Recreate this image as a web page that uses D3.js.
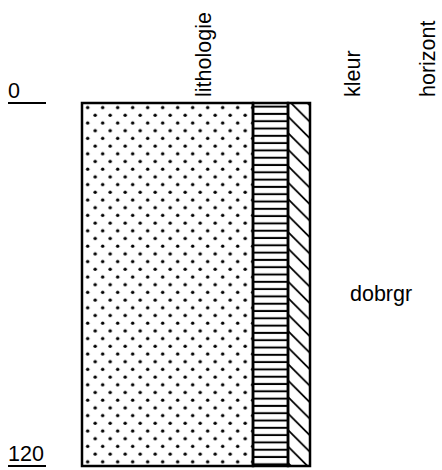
<!DOCTYPE html>
<html>
<head>
<meta charset="utf-8">
<script src="https://cdn.jsdelivr.net/npm/d3@7"></script>
<style>
  body { margin: 0; background: #fff; }
  text { font-family: "Liberation Sans", Arial, sans-serif; font-size: 21.5px; fill: #000; }
</style>
</head>
<body>
<script>
// depth axis (cm)
const depthTicks = [0, 120];
// layers
const layerTop = [0];
const layerBottom = [120];
const lithologie = ["zand"];
const kleur = ["dobrgr"];
const horizont = ["h1"];
const columnNames = ["lithologie", "kleur", "horizont"];

const width = 442;
const height = 470;

const svg = d3.select("body")
    .append("svg")
    .attr("width", width)
    .attr("height", height);

const y = d3.scaleLinear().domain([0, 120]).range([103, 466]);

// column edges of the log
const litho = { x0: 82, x1: 253 };
const kleurCol = { x0: 253, x1: 288 };
const horCol = { x0: 288, x1: 310 };

const defs = svg.append("defs");

// sand: staggered dots
const dots = defs.append("pattern")
    .attr("id", "dots")
    .attr("patternUnits", "userSpaceOnUse")
    .attr("x", 80.2)
    .attr("y", 103.5)
    .attr("width", 15)
    .attr("height", 15.4);
dots.append("circle").attr("cx", 7.5).attr("cy", 4).attr("r", 1.7).attr("fill", "#000");
dots.append("circle").attr("cx", 0).attr("cy", 11.7).attr("r", 1.7).attr("fill", "#000");
dots.append("circle").attr("cx", 15).attr("cy", 11.7).attr("r", 1.7).attr("fill", "#000");

// kleur: horizontal lines
const hlines = defs.append("pattern")
    .attr("id", "hlines")
    .attr("patternUnits", "userSpaceOnUse")
    .attr("x", 0)
    .attr("y", 103)
    .attr("width", 10)
    .attr("height", 7.3);
hlines.append("line")
    .attr("x1", 0).attr("x2", 10)
    .attr("y1", 3.6).attr("y2", 3.6)
    .attr("stroke", "#000")
    .attr("stroke-width", 2);

// horizont: diagonal hatch "\"
const hatch = defs.append("pattern")
    .attr("id", "hatch")
    .attr("patternUnits", "userSpaceOnUse")
    .attr("x", 288)
    .attr("y", 100)
    .attr("width", 22)
    .attr("height", 16.5);
[-16.5, 0, 16.5].forEach(off => {
    hatch.append("line")
        .attr("x1", 0).attr("y1", off)
        .attr("x2", 22).attr("y2", off + 22)
        .attr("stroke", "#000")
        .attr("stroke-width", 1.8);
});

const layers = layerTop.map((t, i) => ({ top: t, bottom: layerBottom[i], litho: lithologie[i], kleur: kleur[i], hor: horizont[i] }));

const g = svg.append("g");

function drawColumn(col, fill) {
    g.selectAll(null)
        .data(layers)
        .enter()
        .append("rect")
        .attr("x", col.x0)
        .attr("y", d => y(d.top))
        .attr("width", col.x1 - col.x0)
        .attr("height", d => y(d.bottom) - y(d.top))
        .attr("fill", fill)
        .attr("stroke", "#000")
        .attr("stroke-width", 2.5);
}
drawColumn(litho, "url(#dots)");
drawColumn(kleurCol, "url(#hlines)");
drawColumn(horCol, "url(#hatch)");

// kleur label
g.selectAll(".klabel")
    .data(layers)
    .enter()
    .append("text")
    .attr("class", "klabel")
    .attr("x", 350)
    .attr("y", d => y((d.top + d.bottom) / 2) + 16)
    .text(d => d.kleur);

// depth ticks
const ticks = svg.selectAll(".tick")
    .data(depthTicks)
    .enter()
    .append("g")
    .attr("class", "tick")
    .attr("transform", d => `translate(0,${y(d)})`);
ticks.append("line")
    .attr("x1", 8).attr("x2", 46)
    .attr("stroke", "#000")
    .attr("stroke-width", 2);
ticks.append("text")
    .attr("x", 8)
    .attr("y", -5)
    .text(d => d);

// column headers
const headerX = [211, 360, 435];
svg.selectAll(".header")
    .data(columnNames)
    .enter()
    .append("text")
    .attr("class", "header")
    .attr("transform", (d, i) => `translate(${headerX[i]},97) rotate(-90)`)
    .text(d => d);
</script>
</body>
</html>
